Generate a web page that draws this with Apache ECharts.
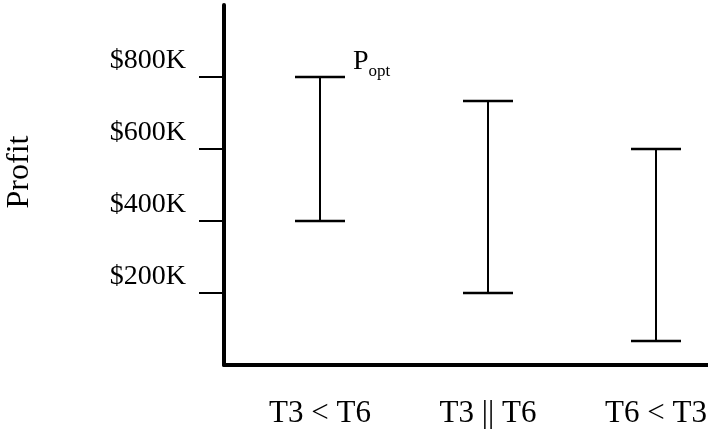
<!DOCTYPE html>
<html style="height: 100%">
<head>
    <meta charset="utf-8">
    <title>Profit ranges</title>
    <script src="https://cdn.jsdelivr.net/npm/echarts@6/dist/echarts.min.js"></script>
</head>
<body style="height: 100%; margin: 0; background: #fff">
<div id="main" style="width: 708px; height: 437px"></div>
<script type="text/javascript">
    // data (values in $K)
    var categories = ['T3 < T6', 'T3 || T6', 'T6 < T3'];
    var lowValues = [400, 200, 67];
    var highValues = [800, 733, 600];
    var yTicks = [200, 400, 600, 800];
    var optLabel = 'opt';

    var font = '"Liberation Serif", "Times New Roman", serif';

    var seriesData = categories.map(function (c, i) {
        return [i + 1, lowValues[i], highValues[i]];
    });

    var myChart = echarts.init(document.getElementById('main'));

    var option = {
        backgroundColor: '#fff',
        animation: false,
        grid: { left: 224, right: 0, top: 5, bottom: 72, containLabel: false, outerBoundsMode: 'none' },
        xAxis: {
            type: 'value',
            min: 1 - 96 / 168,
            max: 3 + 52 / 168,
            splitLine: { show: false },
            axisLine: { show: true, onZero: false, lineStyle: { color: '#000', width: 4 } },
            axisTick: { show: false },
            axisLabel: {
                customValues: [1, 2, 3],
                formatter: function (v) { return categories[Math.round(v) - 1]; },
                color: '#000',
                fontFamily: font,
                fontSize: 31,
                margin: 33,
                hideOverlap: false
            }
        },
        yAxis: {
            type: 'value',
            min: 0,
            max: 1000,
            name: 'Profit',
            nameLocation: 'middle',
            nameGap: 188,
            nameTextStyle: { color: '#000', fontFamily: font, fontSize: 32, padding: [0, 0, 0, 26] },
            splitLine: { show: false },
            axisLine: { show: true, lineStyle: { color: '#000', width: 4 } },
            axisTick: {
                show: true,
                customValues: yTicks,
                length: 25,
                lineStyle: { color: '#000', width: 2 }
            },
            axisLabel: {
                customValues: yTicks,
                formatter: function (v) { return '$' + v + 'K'; },
                color: '#000',
                fontFamily: font,
                fontSize: 28,
                margin: 38,
                verticalAlign: 'bottom',
                lineHeight: 32
            }
        },
        series: [{
            type: 'custom',
            data: seriesData,
            renderItem: function (params, api) {
                var x = api.value(0);
                var lo = api.coord([x, api.value(1)]);
                var hi = api.coord([x, api.value(2)]);
                var half = 25;
                var children = [
                    { type: 'line', shape: { x1: hi[0], y1: hi[1], x2: lo[0], y2: lo[1] },
                      style: { stroke: '#000', lineWidth: 2 } },
                    { type: 'line', shape: { x1: hi[0] - half, y1: hi[1], x2: hi[0] + half, y2: hi[1] },
                      style: { stroke: '#000', lineWidth: 2.5 } },
                    { type: 'line', shape: { x1: lo[0] - half, y1: lo[1], x2: lo[0] + half, y2: lo[1] },
                      style: { stroke: '#000', lineWidth: 2.5 } }
                ];
                if (params.dataIndex === 0) {
                    children.push({
                        type: 'text',
                        x: hi[0] + half + 8,
                        y: hi[1] - 1,
                        style: {
                            text: '{p|P}{s|' + optLabel + '}',
                            verticalAlign: 'bottom',
                            align: 'left',
                            rich: {
                                p: { fontFamily: font, fontSize: 28, fill: '#000', verticalAlign: 'bottom', lineHeight: 28 },
                                s: { fontFamily: font, fontSize: 17, fill: '#000', verticalAlign: 'bottom', lineHeight: 18, padding: [0, 0, -4, 0] }
                            }
                        }
                    });
                }
                return { type: 'group', children: children };
            }
        }]
    };

    myChart.setOption(option);
</script>
</body>
</html>
